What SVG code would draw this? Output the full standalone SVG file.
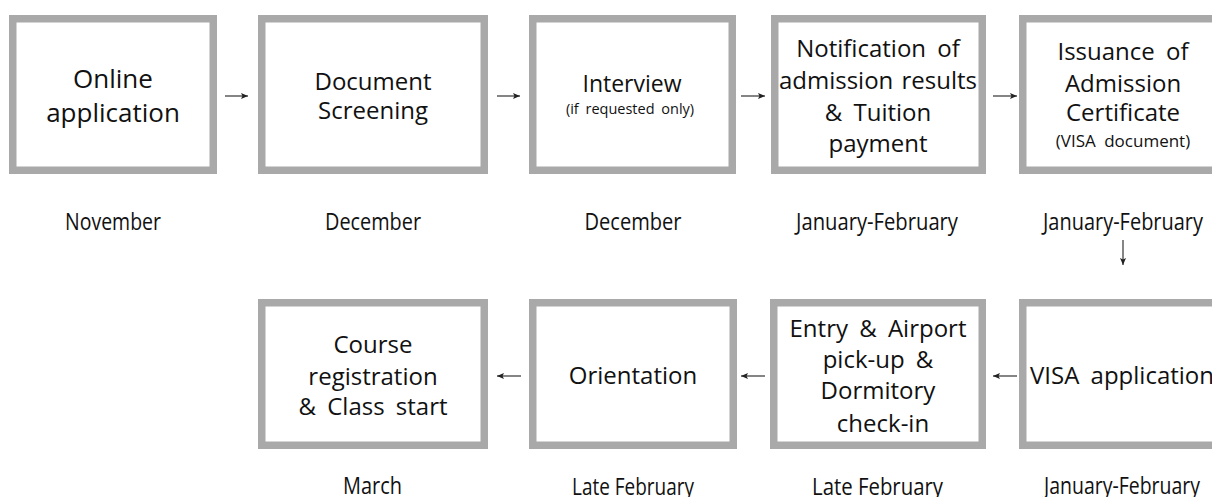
<svg xmlns="http://www.w3.org/2000/svg" width="1212" height="497" viewBox="0 0 1212 497">
<defs>
<style>
.box{fill:#ffffff;stroke:#a9a9a9;stroke-width:7.5}
.t{font-family:"Open Sans","Noto Sans","DejaVu Sans",sans-serif;font-size:24px;fill:#111;text-anchor:middle}
.w{word-spacing:5px}
.m{font-family:"Open Sans","Noto Sans","DejaVu Sans",sans-serif;font-size:23px;fill:#111;text-anchor:middle}
.c{stroke:#222;stroke-width:1.1;fill:none}
</style>
<marker id="ah" viewBox="0 0 8 8" refX="7" refY="4" markerWidth="8" markerHeight="8" markerUnits="userSpaceOnUse" orient="auto">
<path d="M0,1 L7,4 L0,7 L1.5,4 z" fill="#222"/>
</marker>
</defs>
<rect width="1212" height="497" fill="#ffffff"/>

<g id="n-online">
<rect class="box" x="12.75" y="18.75" width="200.5" height="151.5"/>
<text class="t" x="113" y="88" style="font-size:26px">Online</text>
<text class="t" x="113" y="122" style="font-size:26px">application</text>
<text class="m" x="113" y="230" textLength="96" lengthAdjust="spacingAndGlyphs">November</text>
</g>

<g id="n-screening">
<rect class="box" x="261.75" y="18.75" width="222.5" height="151.5"/>
<text class="t" x="373" y="90">Document</text>
<text class="t" x="373" y="119">Screening</text>
<text class="m" x="373" y="230" textLength="96" lengthAdjust="spacingAndGlyphs">December</text>
</g>

<g id="n-interview">
<rect class="box" x="532.75" y="18.75" width="199.5" height="151.5"/>
<text class="t" x="632" y="92" style="font-size:23px">Interview</text>
<text class="t w" x="630" y="114" style="font-size:14.5px;word-spacing:3px">(if requested only)</text>
<text class="m" x="633" y="230" textLength="97" lengthAdjust="spacingAndGlyphs">December</text>
</g>

<g id="n-notification">
<rect class="box" x="774.75" y="18.75" width="207.5" height="151.5"/>
<text class="t w" x="878" y="57">Notification of</text>
<text class="t w" x="878" y="89" style="word-spacing:2px">admission results</text>
<text class="t w" x="878" y="121">&amp; Tuition</text>
<text class="t" x="878" y="152">payment</text>
<text class="m" x="877" y="230" textLength="162" lengthAdjust="spacingAndGlyphs">January-February</text>
</g>

<g id="n-issuance">
<rect class="box" x="1022.75" y="18.75" width="207.5" height="151.5"/>
<text class="t w" x="1123" y="60">Issuance of</text>
<text class="t" x="1123" y="92">Admission</text>
<text class="t" x="1123" y="121">Certificate</text>
<text class="t w" x="1123" y="147" style="font-size:17px;word-spacing:4px">(VISA document)</text>
<text class="m" x="1123" y="230" textLength="160" lengthAdjust="spacingAndGlyphs">January-February</text>
</g>

<g id="n-visa">
<rect class="box" x="1022.75" y="302.75" width="207.5" height="142.5"/>
<text class="t w" x="1030" y="384" style="text-anchor:start">VISA application</text>
<text class="m" x="1122" y="494" textLength="156" lengthAdjust="spacingAndGlyphs">January-February</text>
</g>

<g id="n-entry">
<rect class="box" x="773.75" y="302.75" width="208.5" height="142.5"/>
<text class="t w" x="878" y="337">Entry &amp; Airport</text>
<text class="t w" x="878" y="368">pick-up &amp;</text>
<text class="t" x="878" y="399">Dormitory</text>
<text class="t" x="883" y="432">check-in</text>
<text class="m" x="877.5" y="495" textLength="131" lengthAdjust="spacingAndGlyphs">Late February</text>
</g>

<g id="n-orientation">
<rect class="box" x="532.75" y="302.75" width="200.5" height="142.5"/>
<text class="t" x="633" y="384">Orientation</text>
<text class="m" x="633" y="495" textLength="122" lengthAdjust="spacingAndGlyphs">Late February</text>
</g>

<g id="n-course">
<rect class="box" x="261.75" y="302.75" width="222.5" height="142.5"/>
<text class="t" x="373" y="353">Course</text>
<text class="t" x="373" y="385">registration</text>
<text class="t w" x="373" y="415">&amp; Class start</text>
<text class="m" x="372.5" y="494" textLength="59" lengthAdjust="spacingAndGlyphs">March</text>
</g>

<g id="connectors">
<line class="c" x1="225" y1="96" x2="248" y2="96" marker-end="url(#ah)"/>
<line class="c" x1="497" y1="96" x2="520" y2="96" marker-end="url(#ah)"/>
<line class="c" x1="741" y1="96" x2="765" y2="96" marker-end="url(#ah)"/>
<line class="c" x1="993" y1="96" x2="1017" y2="96" marker-end="url(#ah)"/>
<line class="c" x1="1123" y1="240" x2="1123" y2="265" marker-end="url(#ah)"/>
<line class="c" x1="1017" y1="376" x2="993" y2="376" marker-end="url(#ah)"/>
<line class="c" x1="765" y1="376" x2="741" y2="376" marker-end="url(#ah)"/>
<line class="c" x1="521" y1="376" x2="497" y2="376" marker-end="url(#ah)"/>
</g>
</svg>
